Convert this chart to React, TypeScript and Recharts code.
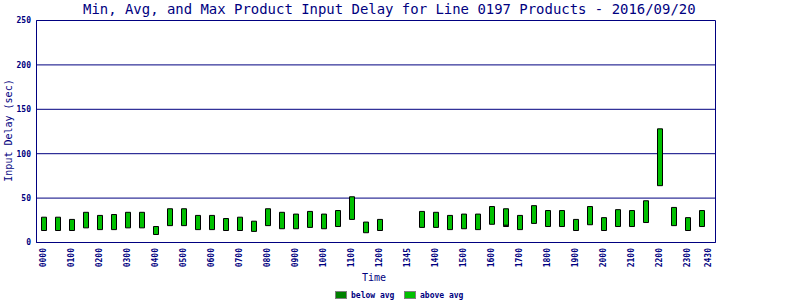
import React from "react";
import { ComposedChart, Bar, XAxis, YAxis, CartesianGrid } from "recharts";

const slots = [
  "0000", "0030", "0100", "0130", "0200", "0230", "0300", "0330",
  "0400", "0430", "0500", "0530", "0600", "0630", "0700", "0730",
  "0800", "0830", "0900", "0930", "1000", "1030", "1100", "1130",
  "1200", "1230", "1300", "1330", "1400", "1430", "1500", "1530",
  "1600", "1630", "1700", "1730", "1800", "1830", "1900", "1930",
  "2000", "2030", "2100", "2130", "2200", "2230", "2300", "2330",
];

const tickLabels = [
  "0000", "", "0100", "", "0200", "", "0300", "",
  "0400", "", "0500", "", "0600", "", "0700", "",
  "0800", "", "0900", "", "1000", "", "1100", "",
  "1200", "", "1345", "", "1400", "", "1500", "",
  "1600", "", "1700", "", "1800", "", "1900", "",
  "2000", "", "2100", "", "2200", "", "2300", "2430",
];

const minDelay: (number | null)[] = [
  13.5, 13.5, 13.5, 16.5, 14.5, 14.5, 16.5, 16.5,
  9, 19, 19, 14.5, 14.5, 13.5, 13.5, 12.5,
  19, 15.5, 15.5, 17, 15.5, 18, 26, 11,
  13.5, null, null, 17, 17, 14.5, 15.5, 14.5,
  20.5, 18, 14.5, 21.5, 18, 18, 13.5, 20,
  13.5, 18, 18, 22.5, 64, 19, 13.5, 18,
];

const maxDelay: (number | null)[] = [
  28.5, 28.5, 26, 34, 30.5, 31.5, 34, 34,
  18, 38, 38, 30.5, 30.5, 27, 28.5, 24,
  38, 34, 32, 35, 32, 36, 51.5, 23,
  26, null, null, 35, 34, 30.5, 32, 32,
  40.5, 38, 30.5, 41.5, 36, 36, 26, 40.5,
  28, 37, 36, 47, 128, 39.5, 28, 36,
];

const belowAvgDelay: number[] = [
  0, 0, 0, 0, 0, 0, 0, 0,
  0, 0, 0, 0, 0, 0, 0, 0,
  0, 0, 0, 0, 0, 0, 0, 0,
  0, 0, 0, 0, 0, 0, 0, 0,
  0, 1.5, 0, 0, 0, 0, 0, 0,
  0, 0, 0, 0, 0, 0, 0, 0,
];

const yTicks = [0, 50, 100, 150, 200, 250];
const titleText = "Min, Avg, and Max Product Input Delay for Line 0197 Products - 2016/09/20";
const yLabelText = "Input Delay (sec)";
const xLabelText = "Time";
const legendLabels = ["below avg", "above avg"];

const NAVY = "#000080";
const DARK = "#008000";
const LIGHT = "#00C000";
const FONT = "'DejaVu Sans Mono', monospace";

const data = slots.map((slot, i) => {
  const mn = minDelay[i];
  const mx = maxDelay[i];
  const b = belowAvgDelay[i] || 0;
  if (mn == null || mx == null) {
    return { slot, base: null, below: null, above: null };
  }
  return { slot, base: mn, below: b > 0 ? b : null, above: mx - mn - b };
});

const XTick = (props: any) => {
  const { x, y, payload } = props;
  const idx = slots.indexOf(payload?.value);
  const label = tickLabels[idx];
  if (!label) return null;
  const shift = idx === slots.length - 1 ? 7 : 0;
  const cx = x + shift;
  return (
    <text
      x={cx}
      y={y}
      transform={`rotate(-90, ${cx}, ${y})`}
      textAnchor="end"
      dominantBaseline="central"
      fontSize={8}
      fontWeight="bold"
      fill={NAVY}
      fontFamily={FONT}
    >
      {label}
    </text>
  );
};

export default function App() {
  return (
    <div style={{ position: "absolute", left: 0, top: 0, width: 800, height: 300, background: "#fff" }}>
      <ComposedChart
        width={800}
        height={300}
        data={data}
        margin={{ top: 20.5, right: 84.5, bottom: 7.5, left: 0 }}
        barCategoryGap={0}
      >
        <CartesianGrid stroke={NAVY} verticalPoints={[36.5, 715.5]} fill="none" />
        <XAxis
          dataKey="slot"
          interval={0}
          tickLine={false}
          tickSize={0}
          tickMargin={5.5}
          axisLine={{ stroke: NAVY }}
          tick={<XTick />}
          height={50}
          padding={{ left: 0, right: 7 }}
        />
        <YAxis
          domain={[0, 250]}
          ticks={yTicks}
          interval={0}
          width={36.5}
          tickLine={false}
          tickSize={0}
          tickMargin={5.5}
          axisLine={{ stroke: NAVY }}
          tick={{ fill: NAVY, fontSize: 8, fontWeight: "bold", fontFamily: FONT }}
          allowDataOverflow
        />
        <Bar dataKey="base" stackId="a" fill="transparent" stroke="none" barSize={5} isAnimationActive={false} />
        <Bar dataKey="below" stackId="a" fill={DARK} stroke="#000" strokeWidth={1} barSize={5} isAnimationActive={false} />
        <Bar dataKey="above" stackId="a" fill={LIGHT} stroke="#000" strokeWidth={1} barSize={5} isAnimationActive={false} />

        <text x={83} y={13.8} fontSize={13.95} fill={NAVY} fontFamily={FONT}>
          {titleText}
        </text>
        <text
          x={8}
          y={130.5}
          transform="rotate(-90, 8, 130.5)"
          textAnchor="middle"
          dominantBaseline="central"
          fontSize={10}
          fill={NAVY}
          fontFamily={FONT}
        >
          {yLabelText}
        </text>
        <text x={374} y={281} textAnchor="middle" fontSize={10} fill={NAVY} fontFamily={FONT}>
          {xLabelText}
        </text>
        <rect x={335.5} y={291.5} width={11} height={7} fill={DARK} stroke="#808080" />
        <text x={351} y={298} fontSize={8} fontWeight="bold" fill={NAVY} fontFamily={FONT}>
          {legendLabels[0]}
        </text>
        <rect x={404.5} y={291.5} width={11} height={7} fill={LIGHT} stroke="#808080" />
        <text x={420} y={298} fontSize={8} fontWeight="bold" fill={NAVY} fontFamily={FONT}>
          {legendLabels[1]}
        </text>
      </ComposedChart>
    </div>
  );
}
